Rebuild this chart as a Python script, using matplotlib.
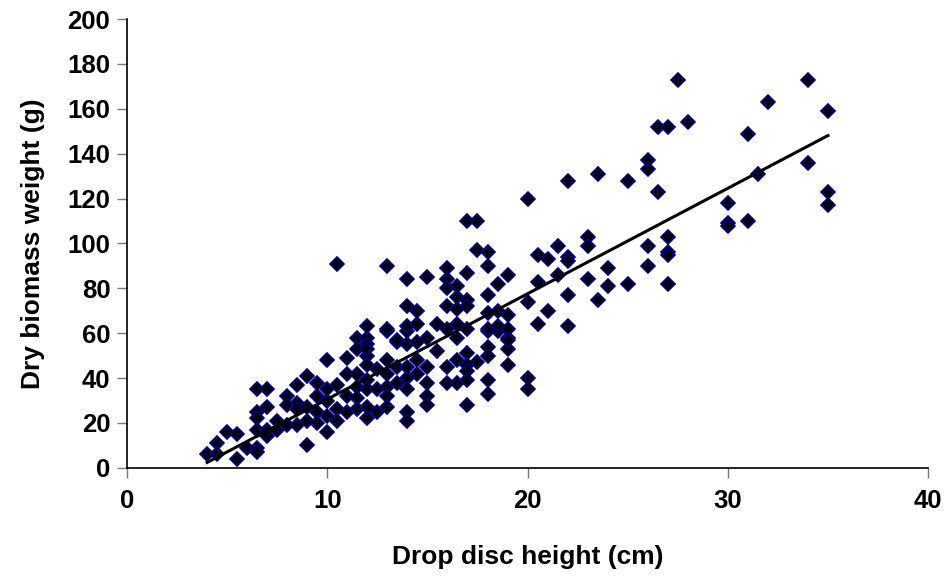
import numpy as np
import matplotlib.pyplot as plt

# drop disc height (cm) and dry biomass weight (g)
height_cm = [
    4, 4.5, 4.5, 5, 5.5, 5.5, 6, 6.5, 6.5, 6.5, 7, 7, 6.5, 6.5, 6.5, 7, 7, 7.5, 7.5,
    8, 8, 8, 8.5, 8.5, 8.5, 8.5, 9, 9, 9, 9, 9.5, 9.5, 9.5, 9.5,
    10, 10, 10, 10, 10, 10.5, 10.5, 10.5, 11, 11, 11, 11,
    11.5, 11.5, 11.5, 11.5, 11.5, 11.5, 12, 12, 12, 12, 12, 12, 12, 12,
    12.5, 12.5, 12.5, 13, 13, 13, 13, 13, 13, 13.5, 13.5, 13.5,
    14, 14, 14, 14, 14, 14, 14, 14.5, 14.5, 14.5, 15, 15, 15, 15, 15, 15.5,
    16, 16, 16.5, 16.5, 16.5, 17, 17, 17, 17, 17, 17.5, 18, 18, 18, 18,
    19, 19, 19, 20, 20, 18, 18.5,
    10.5, 13, 14, 14, 12, 13, 12, 13.5,
    17, 17.5, 20, 17.5, 18, 18, 20.5, 21, 15, 16, 16, 17, 16, 16.5, 16.5,
    17, 17, 16, 16.5, 18, 18.5, 19, 20.5, 20, 21, 14.5, 14, 14.5, 16, 15.5,
    16.5, 17, 18, 18.5, 19, 18, 18.5, 19, 20.5, 19,
    22, 23.5, 25, 26, 26, 26.5, 21.5, 22, 22, 23, 23, 21.5, 22, 23, 24, 24,
    23.5, 25, 26, 26, 27, 27, 27, 27, 22,
    34, 32, 35, 31, 31.5, 34, 30, 30, 30, 31, 35, 35,
    27.5, 28, 26.5, 27,
]
biomass_g = [
    6, 11, 6, 16, 15, 4, 9, 9, 7, 35, 35, 27, 25, 22, 17, 17, 14, 21, 17,
    32, 28, 19, 37, 29, 26, 19, 41, 27, 21, 10, 38, 32, 25, 20,
    48, 35, 30, 23, 16, 37, 26, 21, 49, 42, 32, 25,
    58, 53, 42, 36, 31, 26, 58, 55, 50, 46, 39, 35, 27, 22,
    44, 35, 25, 61, 48, 42, 36, 32, 27, 56, 45, 38,
    61, 55, 45, 40, 35, 25, 21, 56, 48, 42, 58, 45, 38, 32, 28, 52,
    45, 38, 58, 48, 38, 51, 46, 43, 39, 28, 47, 54, 50, 39, 33,
    58, 53, 46, 40, 35, 61, 61,
    91, 90, 84, 72, 63, 62, 53, 57,
    110, 110, 120, 97, 96, 90, 95, 93, 85, 89, 84, 87, 80, 81, 76,
    75, 72, 72, 71, 77, 82, 86, 83, 74, 70, 70, 63, 64, 62, 64,
    64, 62, 69, 70, 68, 62, 63, 62, 64, 57,
    128, 131, 128, 137, 133, 123, 99, 94, 92, 103, 99, 86, 77, 84, 89, 81,
    75, 82, 99, 90, 103, 96, 95, 82, 63,
    173, 163, 159, 149, 131, 136, 118, 109, 108, 110, 123, 117,
    173, 154, 152, 152,
]

# linear trend line shown on the chart
fit_slope = 4.70
fit_intercept = -16.4

x_ticks = [0, 10, 20, 30, 40]
y_ticks = np.arange(0, 201, 20)

fig = plt.figure(figsize=(9.48, 5.79), dpi=100)
ax = fig.add_axes([0.134, 0.192, 0.845, 0.775])

ax.plot(height_cm, biomass_g, linestyle='none', marker='D', markersize=7.3,
        markerfacecolor='#000010', markeredgecolor='#000080', markeredgewidth=1.2,
        zorder=2)

xl = np.array([min(height_cm), max(height_cm)])
ax.plot(xl, fit_intercept + fit_slope * xl, color='black', linewidth=2.2, zorder=3)

ax.set_xlim(0, 40)
ax.set_ylim(0, 200)
ax.set_xticks(x_ticks)
ax.set_yticks(y_ticks)

for s in ['top', 'right']:
    ax.spines[s].set_visible(False)
for s in ['left', 'bottom']:
    ax.spines[s].set_linewidth(1.2)
    ax.spines[s].set_color('black')

ax.tick_params(axis='both', direction='out', length=7, width=1, color='#777777',
               labelsize=18.5)
ax.tick_params(axis='x', pad=8)
ax.tick_params(axis='y', pad=5)
for lab in ax.get_xticklabels() + ax.get_yticklabels():
    lab.set_fontfamily('Liberation Sans')
    lab.set_fontweight('bold')

ax.set_xlabel('Drop disc height (cm)', fontsize=19, fontweight='bold',
              family='Liberation Sans', labelpad=23)
ax.set_ylabel('Dry biomass weight (g)', fontsize=19, fontweight='bold',
              family='Liberation Sans', labelpad=16)

plt.savefig('out.png', dpi=100)
